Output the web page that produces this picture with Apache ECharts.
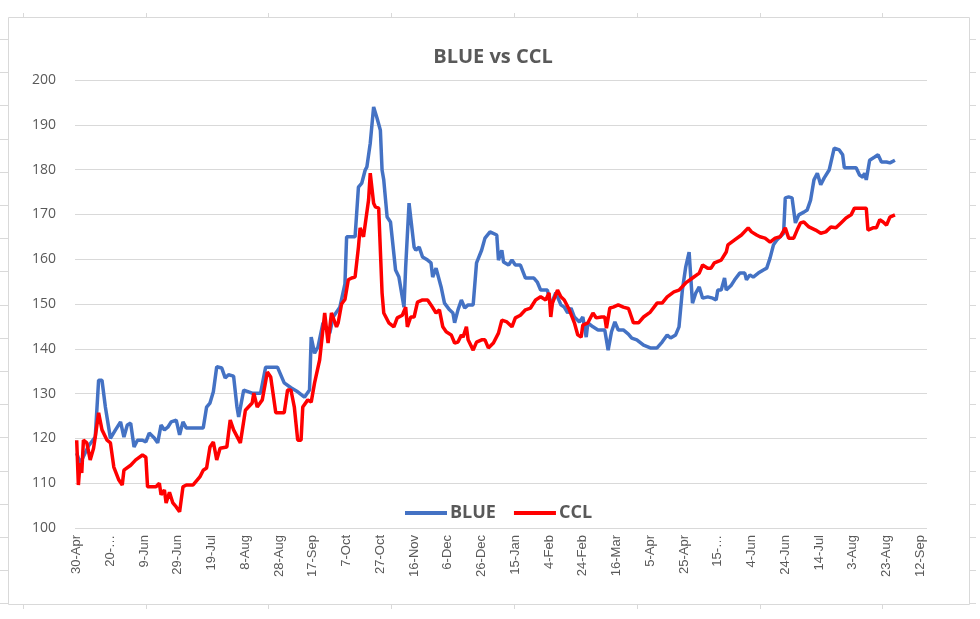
<!DOCTYPE html>
<html>
<head>
<meta charset="utf-8">
<script src="https://cdn.jsdelivr.net/npm/echarts@6/dist/echarts.min.js"></script>
<style>
html,body{margin:0;padding:0;background:#fff;}
#chart{width:980px;height:619px;}
</style>
</head>
<body>
<div id="chart"></div>
<script>
// x values are day offsets from 30-Apr-2020
const chartTitle = 'BLUE vs CCL';
const seriesNames = ['BLUE', 'CCL'];
const tickDays = [0,20,40,60,80,100,120,140,160,180,200,220,240,260,280,300,320,340,360,380,400,420,440,460,480,500];
const tickLabels = ['30-Apr','20-…','9-Jun','29-Jun','19-Jul','8-Aug','28-Aug','17-Sep','7-Oct','27-Oct','16-Nov','6-Dec','26-Dec','15-Jan','4-Feb','24-Feb','16-Mar','5-Apr','25-Apr','15-…','4-Jun','24-Jun','14-Jul','3-Aug','23-Aug','12-Sep'];

const blueData = [[0,116.7],[2,114.5],[3,115.2],[7,118.3],[11,120.3],[13,133],[15,133],[17,127],[20,120],[23,121.9],[26,123.7],[28,120.3],[30,123],[32,123.4],[34,118.1],[36,119.6],[39,119.6],[41,119.2],[43,121.2],[46,120.1],[48,119],[50,123],[52,121.9],[54,122.5],[56,123.7],[59,124.1],[61,120.8],[63,123.7],[65,122.3],[75,122.3],[77,127],[79,127.9],[81,130.4],[83,136],[86,135.7],[88,133.5],[90,134.2],[93,133.9],[95,127],[96,124.8],[99,130.8],[104,130.1],[109,130.1],[112,135.9],[114,135.9],[119,135.9],[123,132.4],[127,131.3],[131,130.4],[135,129.2],[138,130.8],[139,142.6],[141,139],[143,140.4],[146,145.8],[150,143.5],[152,147.1],[156,149.3],[159,154.5],[160,165],[165,165],[167,176.1],[169,177],[171,179.9],[172,180.6],[174,185.9],[176,194],[178,191.5],[180,188.8],[181,179.9],[182,177.7],[184,169.4],[186,168.3],[187,168.1],[189,157.6],[191,156],[194,149.3],[195,158.3],[197,172.5],[200,162.7],[201,162],[203,162.7],[205,160.5],[208,159.8],[210,159.2],[211,156],[213,158],[216,153.8],[218,150.2],[221,148.7],[223,148],[224,145.8],[226,148.7],[228,150.9],[230,149.1],[232,149.8],[235,149.8],[237,159.2],[240,162],[242,164.7],[245,166.1],[249,165.4],[250,159.8],[252,162],[253,159.4],[256,158.7],[258,159.8],[260,158.7],[263,158.7],[266,155.8],[271,155.8],[273,154.9],[275,153.1],[279,153.1],[281,149.8],[284,152.5],[287,149.8],[289,149.3],[291,148],[293,149.1],[295,147.1],[298,146],[300,147.1],[302,142.6],[303,145.8],[306,144.9],[309,144.2],[313,144.2],[315,139.7],[317,143.8],[319,146],[321,144.2],[324,144.2],[327,143.3],[329,142.4],[332,142],[336,140.8],[340,140.2],[344,140.2],[347,141.5],[350,143.1],[352,142.4],[355,143.1],[357,144.9],[359,153.1],[361,158.3],[363,161.6],[364,162],[365,150.2],[367,152.5],[369,153.8],[371,151.3],[374,151.6],[377,151.3],[379,150.9],[380,153.1],[382,153.1],[384,155.8],[385,153.1],[388,154.2],[390,155.4],[393,156.9],[396,156.9],[397,155.4],[399,156.5],[401,156],[404,156.9],[407,157.6],[409,158],[411,160.3],[413,163.2],[415,164.3],[417,165],[419,165.8],[420,173.7],[422,173.9],[424,173.7],[426,168.1],[428,169.9],[431,170.5],[433,171],[435,173.2],[437,177.7],[439,179.2],[441,176.6],[443,178.1],[446,179.9],[449,184.8],[452,184.4],[454,183.3],[455,180.4],[459,180.4],[462,180.4],[464,178.8],[466,178.3],[467,179.2],[468,177.7],[470,182.1],[473,182.8],[475,183.3],[477,181.7],[480,181.7],[482,181.5],[485,182.1]];

const cclData = [[0,119.6],[1,109.6],[2,114.5],[3,112.3],[4,119.6],[6,119],[8,115.2],[10,117.8],[11,120.3],[13,125.7],[15,121.9],[18,119.6],[20,119],[22,113.6],[25,110.7],[27,109.6],[28,112.9],[32,114],[35,115.2],[39,116.3],[41,115.8],[42,109.2],[47,109.2],[49,110],[50,107.4],[52,108.5],[53,105.6],[55,108],[57,105.6],[59,104.7],[61,103.6],[63,109.2],[65,109.6],[69,109.6],[70,109.2],[73,111.4],[75,112.9],[77,113.4],[79,118.1],[81,119.2],[83,115.2],[85,117.8],[89,118.1],[91,124.1],[93,121.9],[97,119],[100,126.3],[104,127.9],[105,130.1],[107,127],[110,128.6],[113,134.8],[115,133.7],[118,125.7],[123,125.7],[125,130.8],[127,130.8],[129,127],[131,119.6],[133,119.6],[134,127],[137,128.6],[139,128.1],[141,132.4],[144,137.5],[147,148],[149,141.3],[151,148],[152,148],[154,144.9],[155,145.8],[157,150],[159,151],[161,155.4],[163,155.8],[165,156],[167,162.7],[168,167],[170,165],[171,165],[173,173.2],[174,179.2],[176,172.5],[177,171.7],[179,171.4],[181,152.5],[182,148],[185,145.8],[188,144.9],[190,146.9],[193,147.5],[195,149.3],[196,144.9],[198,147.1],[200,147.1],[202,150.4],[205,150.9],[208,150.9],[210,149.8],[213,148],[215,148.7],[217,144.9],[219,143.8],[222,143.1],[224,141.3],[226,141.5],[228,143.1],[229,142.6],[231,144.9],[232,142],[235,139.7],[237,141.5],[240,142],[242,142],[244,140.2],[247,141.3],[250,143.5],[252,146.4],[255,146],[258,144.9],[260,146.9],[263,147.5],[266,148.7],[269,149.1],[272,150.9],[275,151.6],[278,150.9],[280,152.5],[281,147.1],[282,150.2],[285,153.1],[287,151.6],[289,150.9],[292,148.7],[295,145.8],[297,143.1],[299,142.6],[300,145.3],[303,145.8],[306,148],[308,146.9],[311,147.1],[313,147.1],[314,144.6],[316,149.1],[318,149.3],[321,149.8],[324,149.3],[327,149],[328,148],[330,145.8],[333,145.8],[336,147.1],[340,148.2],[344,150.2],[347,150.2],[350,151.6],[354,152.7],[357,153.1],[361,154.7],[365,155.8],[369,156.9],[371,158.7],[374,158],[376,158],[378,159.2],[382,159.8],[385,161.6],[386,163.2],[390,164.3],[394,165.4],[398,167],[400,166.1],[403,165.4],[405,165],[408,164.7],[411,163.8],[414,164.7],[417,165],[420,167],[422,164.7],[425,164.7],[427,166.5],[429,168.1],[431,168.3],[434,167.2],[438,166.5],[441,165.8],[444,166.1],[447,167.2],[450,167],[453,168.1],[456,169.2],[457,168.8],[459,169.9],[461,171.4],[464,171.4],[468,171.4],[469,166.5],[472,167],[474,167],[476,168.8],[478,168.3],[480,167.6],[482,169.4],[485,169.9]];

const textColor = '#595959';
const frameColor = '#d9d9d9';

// decorative sheet-cell markers around the chart frame
const decor = [];
decor.push({type:'rect', shape:{x:8.5,y:17.5,width:961,height:587}, style:{fill:'none', stroke:frameColor, lineWidth:1}, silent:true});
for (let i = 0; i < 8; i++) {
  const x = Math.round(22.7 + 122.8 * i) + 0.5;
  decor.push({type:'line', shape:{x1:x,y1:13,x2:x,y2:17}, style:{stroke:frameColor, lineWidth:1}, silent:true});
  decor.push({type:'line', shape:{x1:x,y1:605,x2:x,y2:609}, style:{stroke:frameColor, lineWidth:1}, silent:true});
}
for (let j = 0; j < 18; j++) {
  const y = Math.round(39 + 33.2 * j) + 0.5;
  if (y > 604) break;
  decor.push({type:'line', shape:{x1:0,y1:y,x2:8,y2:y}, style:{stroke:frameColor, lineWidth:1}, silent:true});
  decor.push({type:'line', shape:{x1:970,y1:y,x2:976,y2:y}, style:{stroke:frameColor, lineWidth:1}, silent:true});
}

const chart = echarts.init(document.getElementById('chart'), null, {renderer:'canvas'});
chart.setOption({
  animation: false,
  backgroundColor: '#ffffff',
  title: {
    text: chartTitle,
    left: 488, top: 42, textAlign: 'center',
    textStyle: {fontFamily:'Open Sans', fontSize: 20, fontWeight: 'bold', color: textColor}
  },
  legend: {
    data: seriesNames,
    left: 405, top: 504, padding: 0,
    icon: 'rect', itemWidth: 42, itemHeight: 4, itemGap: 18,
    textStyle: {fontFamily:'Open Sans', fontSize: 18, fontWeight: 'bold', color: textColor, padding:[0,0,0,-2]}
  },
  grid: {left: 75, right: 53, top: 80, bottom: 91, containLabel: false},
  xAxis: {
    type: 'value', min: -1, max: 504,
    axisLine: {show: false}, axisTick: {show: false}, splitLine: {show: false},
    axisLabel: {
      customValues: tickDays,
      rotate: 90, margin: 7,
      fontFamily: 'Liberation Sans', fontSize: 13, color: textColor,
      formatter: function (v) { const i = tickDays.indexOf(Math.round(v)); return i >= 0 ? tickLabels[i] : ''; }
    }
  },
  yAxis: {
    type: 'value', min: 100, max: 200, interval: 10,
    axisLine: {show: false}, axisTick: {show: false},
    splitLine: {lineStyle: {color: frameColor, width: 1}},
    axisLabel: {margin: 19, fontFamily: 'Open Sans', fontSize: 14, color: textColor}
  },
  series: [
    {name: seriesNames[0], type: 'line', data: blueData, symbol: 'none', lineStyle: {color: '#4472C4', width: 3.5}, itemStyle:{color:'#4472C4'}},
    {name: seriesNames[1], type: 'line', data: cclData, symbol: 'none', lineStyle: {color: '#FF0000', width: 3.5}, itemStyle:{color:'#FF0000'}}
  ],
  graphic: decor
});
</script>
</body>
</html>
